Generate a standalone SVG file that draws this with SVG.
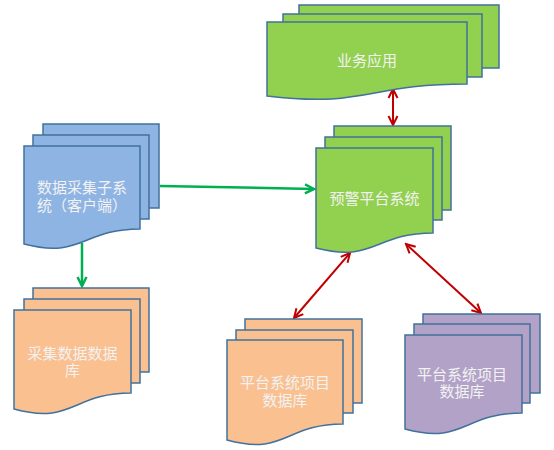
<svg xmlns="http://www.w3.org/2000/svg" width="554" height="450" viewBox="0 0 554 450">
<style>
.doc{stroke:#41719C;stroke-width:1.5;stroke-linejoin:miter}
.g{fill:#92D050}
.b{fill:#8EB4E3}
.o{fill:#FAC090}
.p{fill:#B3A2C7}
.t{font-family:"Liberation Sans","Noto Sans CJK SC","Noto Sans CJK JP",sans-serif;font-size:15px;fill:#F2F2F2;text-anchor:middle}
.ga{stroke:#00B050;stroke-width:2.5;fill:none}
.ra{stroke:#C00000;stroke-width:2;fill:none}
</style>
<defs>
<marker id="mg" viewBox="0 0 12 12" refX="10" refY="6" markerWidth="12" markerHeight="12" markerUnits="userSpaceOnUse" orient="auto-start-reverse">
<path d="M1,1.5 L10,6 L1,10.5" fill="none" stroke="#00B050" stroke-width="2.5"/>
</marker>
<marker id="mr" viewBox="0 0 12 12" refX="10" refY="6" markerWidth="12" markerHeight="12" markerUnits="userSpaceOnUse" orient="auto-start-reverse">
<path d="M1,1.5 L10,6 L1,10.5" fill="none" stroke="#C00000" stroke-width="2"/>
</marker>
</defs>

<g id="connectors">
<line class="ga" x1="160" y1="186" x2="314" y2="189" marker-end="url(#mg)"/>
<line class="ga" x1="82" y1="243" x2="82" y2="286" marker-end="url(#mg)"/>
<line class="ra" x1="393" y1="89" x2="393" y2="125" marker-start="url(#mr)" marker-end="url(#mr)"/>
<line class="ra" x1="350" y1="253" x2="294" y2="318" marker-start="url(#mr)" marker-end="url(#mr)"/>
<line class="ra" x1="406" y1="244" x2="481" y2="313" marker-start="url(#mr)" marker-end="url(#mr)"/>
</g>

<g id="business-app">
<rect class="doc g" x="299" y="5" width="200" height="63"/>
<rect class="doc g" x="283" y="14" width="199" height="63"/>
<path class="doc g" d="M267,22 H467 V84 C367,84 367,108 267,96 Z"/>
<text class="t" x="367" y="66">业务应用</text>
</g>

<g id="warning-platform">
<rect class="doc g" x="334" y="126" width="117" height="84"/>
<rect class="doc g" x="325" y="137" width="117" height="83"/>
<path class="doc g" d="M316,148 H433 V233 C374.5,233 374.5,263 316,248 Z"/>
<text class="t" x="374.5" y="204">预警平台系统</text>
</g>

<g id="data-collection">
<rect class="doc b" x="43" y="124" width="116" height="84"/>
<rect class="doc b" x="33" y="135" width="116" height="84"/>
<path class="doc b" d="M24,146 H140 V229 C82,229 82,259 24,244 Z"/>
<text class="t" x="82" y="193">数据采集子系<tspan x="82" dy="18">统（客户端）</tspan></text>
</g>

<g id="collection-db">
<rect class="doc o" x="33" y="288" width="116" height="84"/>
<rect class="doc o" x="24" y="299" width="116" height="84"/>
<path class="doc o" d="M14,310 H131 V393 C72.5,393 72.5,425 14,409 Z"/>
<text class="t" x="72.5" y="358.5">采集数据数据<tspan x="72.5" dy="17">库</tspan></text>
</g>

<g id="platform-db-orange">
<rect class="doc o" x="245" y="319" width="117" height="84"/>
<rect class="doc o" x="236" y="330" width="117" height="83"/>
<path class="doc o" d="M227,340 H343 V424 C285,424 285,456 227,440 Z"/>
<text class="t" x="285" y="388">平台系统项目<tspan x="285" dy="18">数据库</tspan></text>
</g>

<g id="platform-db-purple">
<rect class="doc p" x="423" y="314" width="117" height="79"/>
<rect class="doc p" x="414" y="324" width="116" height="79"/>
<path class="doc p" d="M405,335 H522 V413 C463.5,413 463.5,445 405,429 Z"/>
<text class="t" x="462" y="380">平台系统项目<tspan x="462" dy="17">数据库</tspan></text>
</g>
</svg>
